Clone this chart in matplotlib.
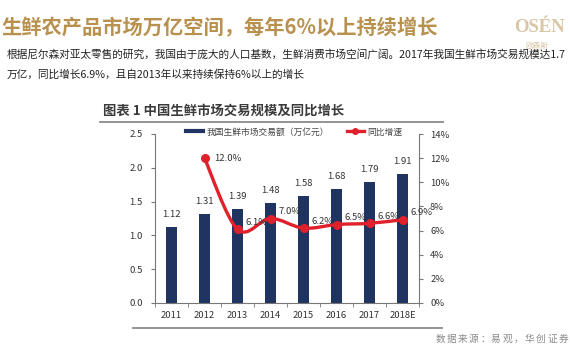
import matplotlib
matplotlib.use("Agg")
import matplotlib.pyplot as plt
import numpy as np
from matplotlib.path import Path
from matplotlib.patches import PathPatch
from matplotlib.lines import Line2D

plt.rcParams['font.family'] = ['Noto Sans CJK SC', 'DejaVu Sans']

years = ['2011', '2012', '2013', '2014', '2015', '2016', '2017', '2018E']
market = [1.12, 1.31, 1.39, 1.48, 1.58, 1.68, 1.79, 1.91]
growth_years = ['2012', '2013', '2014', '2015', '2016', '2017', '2018E']
growth = [12.0, 6.1, 7.0, 6.2, 6.5, 6.6, 6.9]
left_ticks = [0.0, 0.5, 1.0, 1.5, 2.0, 2.5]
right_ticks = [0, 2, 4, 6, 8, 10, 12, 14]

title = '生鲜农产品市场万亿空间，每年6%以上持续增长'
body1 = '根据尼尔森对亚太零售的研究，我国由于庞大的人口基数，生鲜消费市场空间广阔。2017年我国生鲜市场交易规模达1.7'
body2 = '万亿，同比增长6.9%，且自2013年以来持续保持6%以上的增长'
chart_title = '图表 1 中国生鲜市场交易规模及同比增长'
bar_label = '我国生鲜市场交易额（万亿元）'
line_label = '同比增速'
source = '数据来源：易观，华创证券'

W, H = 570, 360
fig = plt.figure(figsize=(W / 100, H / 100), dpi=100)
fig.patch.set_facecolor('white')

def fx(x):
    return x / W

def fy(y):
    return 1 - y / H

navy = '#1f3461'
red = '#e0202a'
gold = '#b8914f'
gray = '#404040'

# header texts
fig.text(fx(1), fy(28), title, fontsize=14.6, fontweight='bold', color=gold, va='center', ha='left')
fig.text(fx(514), fy(28), 'OSÉN', fontsize=13.5, fontweight='bold', family=['Liberation Serif'],
         color='#d9c6a6', va='center', ha='left')
fig.text(fx(537), fy(46), '欧森斯', fontsize=5.5, color='#d9c6a6', va='center', ha='center')
fig.text(fx(7), fy(54), body1, fontsize=7.7, color='#222222', va='center', ha='left')
fig.text(fx(7), fy(75), body2, fontsize=7.7, color='#222222', va='center', ha='left')
fig.text(fx(103), fy(111), chart_title, fontsize=9.6, fontweight='bold', color='#3a3a3a', va='center', ha='left')
fig.add_artist(Line2D([fx(100), fx(443)], [fy(122), fy(122)], color='#8a8a8a', lw=1.3))
fig.add_artist(Line2D([fx(133), fx(442)], [fy(328), fy(328)], color='#8a8a8a', lw=1.3))
# letter-spaced source note
for k, ch in enumerate(source):
    fig.text(fx(440 + 11.2 * k), fy(339), ch, fontsize=7.0, color='#8a8a8a', va='center', ha='center')

# axes
x0, x1 = 155, 419
ybot, ytop = 303, 134
ax = fig.add_axes([fx(x0), fy(ybot), (x1 - x0) / W, (ybot - ytop) / H])
ax.set_facecolor('none')
x = np.arange(len(years))
ax.bar(x, market, width=0.33, color=navy, zorder=2)
ax.set_xlim(-0.5, len(years) - 0.5)
ax.set_ylim(0, 2.5)
ax.set_yticks(left_ticks)
ax.set_yticklabels([f'{v:.1f}' for v in left_ticks])
ax.set_xticks(x)
ax.set_xticklabels(years)
ax.set_xticks(np.arange(-0.5, len(years), 1.0), minor=True)
ax.tick_params(axis='x', which='major', length=0, labelsize=6.8, colors='#333333', pad=6)
ax.tick_params(axis='x', which='minor', length=3, color='#777777', direction='out')
ax.tick_params(axis='y', length=3, labelsize=6.8, colors='#333333', color='#777777', pad=6)
for s in ['top', 'right']:
    ax.spines[s].set_visible(False)
ax.spines['left'].set_color('#777777')
ax.spines['bottom'].set_color('#777777')
for xi, v in zip(x, market):
    ax.annotate(f'{v:.2f}', (xi, v), xytext=(0, 6), textcoords='offset points',
                ha='center', va='bottom', fontsize=6.8, color='#333333')

ax2 = ax.twinx()
ax2.set_ylim(0, 14)
ax2.set_yticks(right_ticks)
ax2.set_yticklabels([f'{v}%' for v in right_ticks])
ax2.tick_params(axis='y', length=3, labelsize=6.8, colors='#333333', color='#777777', pad=5)
for s in ['top', 'left', 'bottom']:
    ax2.spines[s].set_visible(False)
ax2.spines['right'].set_color('#777777')

gx = np.array([years.index(g) for g in growth_years], dtype=float)
gy = np.array(growth, dtype=float)
# smooth rendering of the line (Catmull-Rom -> cubic Bezier)
pts = np.column_stack([gx, gy])
verts = [tuple(pts[0])]
codes = [Path.MOVETO]
n = len(pts)
for i in range(n - 1):
    p0 = pts[i - 1] if i > 0 else pts[i]
    p1 = pts[i]
    p2 = pts[i + 1]
    p3 = pts[i + 2] if i + 2 < n else pts[i + 1]
    c1 = p1 + (p2 - p0) / 6.0
    c2 = p2 - (p3 - p1) / 6.0
    verts += [tuple(c1), tuple(c2), tuple(p2)]
    codes += [Path.CURVE4] * 3
ax2.add_patch(PathPatch(Path(verts, codes), facecolor='none', edgecolor=red, lw=2.4, zorder=3))
ax2.plot(gx, gy, 'o', color=red, ms=5.5, zorder=4)
for i, (xi, v) in enumerate(zip(gx, gy)):
    if i == 0:
        off = (7, 0)
    else:
        off = (6, 5)
    ax2.annotate(f'{v:.1f}%', (xi, v), xytext=off, textcoords='offset points',
                 ha='left', va='center', fontsize=6.8, color='#333333', zorder=5)

handles = [Line2D([], [], color=navy, lw=3),
           Line2D([], [], color=red, lw=2.4, marker='o', ms=4)]
fig.legend(handles, [bar_label, line_label], loc='center', bbox_to_anchor=(fx(294), fy(132)),
           ncol=2, frameon=False, fontsize=6.3, handlelength=2.0, columnspacing=2.0,
           handletextpad=0.4, labelcolor='#444444')

fig.savefig('out.png', dpi=100, facecolor='white')
